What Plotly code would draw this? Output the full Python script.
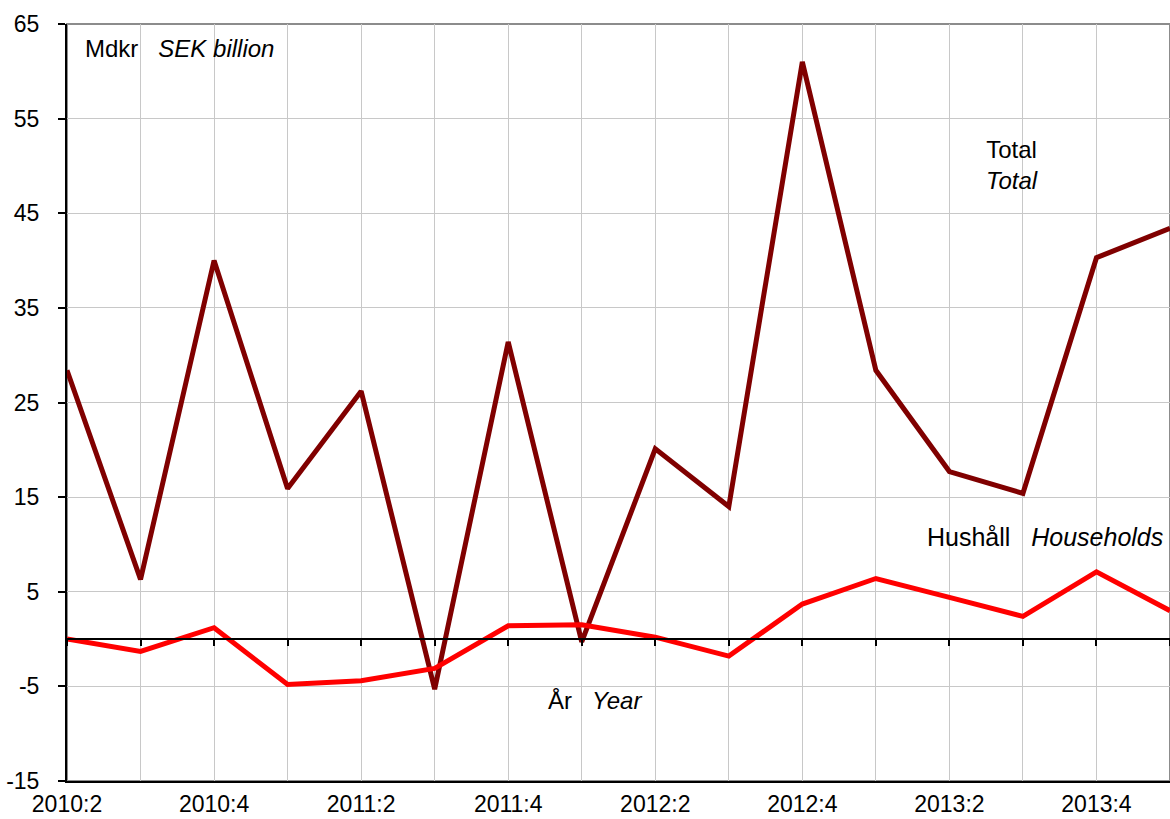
import plotly.graph_objects as go

quarters = ["2010:2", "2010:3", "2010:4", "2011:1", "2011:2", "2011:3", "2011:4", "2012:1",
            "2012:2", "2012:3", "2012:4", "2013:1", "2013:2", "2013:3", "2013:4", "2014:1"]
total = [28.4, 6.3, 40.0, 15.9, 26.2, -5.3, 31.4, -0.3, 20.1, 14.0, 61.0, 28.4, 17.7, 15.4, 40.3, 43.4]
households = [0.0, -1.3, 1.2, -4.8, -4.4, -3.1, 1.4, 1.5, 0.2, -1.8, 3.7, 6.4, 4.4, 2.4, 7.1, 3.0]
y_ticks = [-15, -5, 5, 15, 25, 35, 45, 55, 65]

idx = list(range(len(quarters)))
ticktext = [q if i % 2 == 0 else "" for i, q in enumerate(quarters)]
y_ticktext = [str(v) for v in y_ticks]

FONT = "Liberation Sans, Arial, sans-serif"

fig = go.Figure()
fig.add_trace(go.Scatter(x=idx, y=total, mode="lines", line=dict(color="#800000", width=5),
                         showlegend=False, hoverinfo="skip", cliponaxis=False))
fig.add_trace(go.Scatter(x=idx, y=households, mode="lines", line=dict(color="#FF0000", width=5),
                         showlegend=False, hoverinfo="skip", xaxis="x2", cliponaxis=False))

fig.update_layout(
    width=1170, height=819,
    margin=dict(l=67, r=0, t=24, b=38),
    paper_bgcolor="white", plot_bgcolor="white",
    font=dict(family=FONT, color="black", size=22),
    xaxis=dict(range=[0, len(quarters) - 1], tickvals=idx, ticktext=ticktext,
               showgrid=True, gridcolor="#c8c8c8", gridwidth=1.2,
               showline=True, linecolor="black", linewidth=2, ticks="",
               zeroline=False, tickfont=dict(size=23, family=FONT), ticklabelstandoff=1),
    xaxis2=dict(range=[0, len(quarters) - 1], tickvals=idx, overlaying="x", anchor="free",
                position=15 / 80, showgrid=False, showline=True, linecolor="black", linewidth=1.5,
                ticks="outside", ticklen=6, tickcolor="black", tickwidth=1.5,
                showticklabels=False, zeroline=False),
    yaxis=dict(range=[-15, 65], tickvals=y_ticks, ticktext=y_ticktext,
               showgrid=True, gridcolor="#c8c8c8", gridwidth=1.2,
               showline=True, linecolor="black", linewidth=2, ticks="outside", ticklen=7,
               tickcolor="black", tickwidth=1.5, zeroline=False,
               tickfont=dict(size=23, family=FONT), ticklabelstandoff=14),
    shapes=[dict(type="rect", xref="paper", yref="paper", x0=0, x1=1, y0=0, y1=1,
                 line=dict(color="#8c8c8c", width=2), layer="below")],
    annotations=[
        dict(xref="paper", yref="paper", x=0.0145, y=0.967, xanchor="left", yanchor="middle",
             text="Mdkr&nbsp;&nbsp;&nbsp;<i>SEK billion</i>", showarrow=False, font=dict(size=24)),
        dict(xref="paper", yref="paper", x=0.857, y=0.814, xanchor="center", yanchor="middle",
             text="Total<br><i>Total</i>", showarrow=False, font=dict(size=24), align="center"),
        dict(xref="paper", yref="paper", x=0.9955, y=0.322, xanchor="right", yanchor="middle",
             text="Hushåll&nbsp;&nbsp;&nbsp;<i>Households</i>", showarrow=False, font=dict(size=25)),
        dict(xref="paper", yref="paper", x=0.479, y=0.107, xanchor="center", yanchor="middle",
             text="År&nbsp;&nbsp;&nbsp;<i>Year</i>", showarrow=False, font=dict(size=24)),
    ],
)

fig.write_html("out.html", config={"displayModeBar": False},
               post_script="document.body.style.margin='0';document.body.style.overflow='hidden';")
